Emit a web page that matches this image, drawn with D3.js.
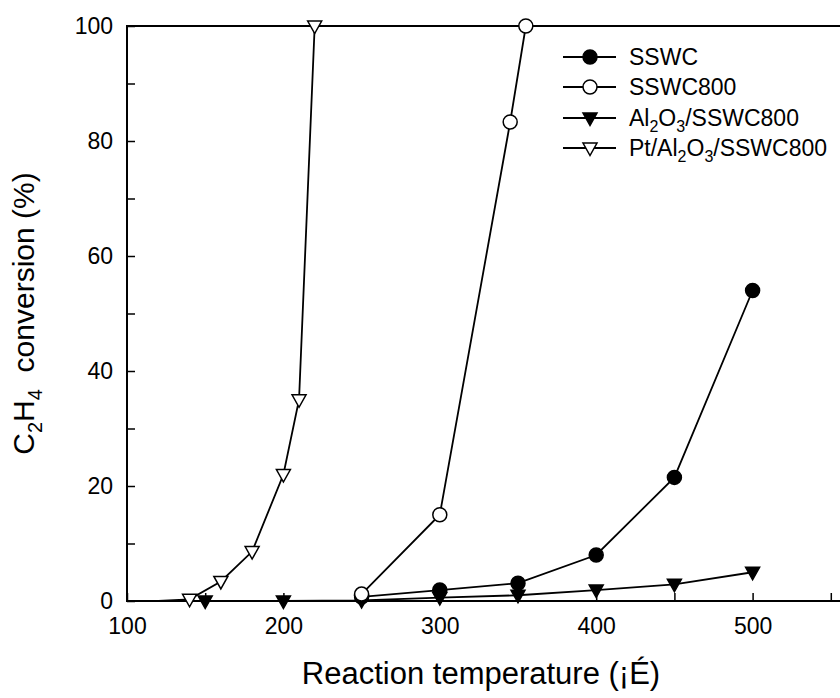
<!DOCTYPE html>
<html>
<head>
<meta charset="utf-8">
<script src="https://cdn.jsdelivr.net/npm/d3@7"></script>
<style>
  body { margin: 0; background: #fff; }
  text { font-family: Arial, "Liberation Sans", sans-serif; fill: #000; }
</style>
</head>
<body>
<div id="chart"></div>
<script>
// ---- data ----
var tempSSWC = [250, 300, 350, 400, 450, 500];
var convSSWC = [0.7, 1.9, 3.1, 8.0, 21.5, 54.0];

var tempSSWC800 = [250, 300, 345, 355];
var convSSWC800 = [1.2, 15.0, 83.3, 100];

var tempAl = [150, 200, 250, 300, 350, 400, 450, 500];
var convAl = [0, 0, 0.1, 0.6, 1.0, 1.9, 2.9, 5.0];

// first point only starts the line, no marker shown for it
var tempPt = [120, 140, 160, 180, 200, 210, 220];
var convPt = [0, 0.3, 3.4, 8.6, 22, 35, 100];

var xTickValues = [100, 150, 200, 250, 300, 350, 400, 450, 500, 550];
var yTickValues = [0, 10, 20, 30, 40, 50, 60, 70, 80, 90, 100];

// legend names, split in [text, isSubscript] pieces
var legendNames = [
  [["SSWC", 0]],
  [["SSWC800", 0]],
  [["Al", 0], ["2", 1], ["O", 0], ["3", 1], ["/SSWC800", 0]],
  [["Pt/Al", 0], ["2", 1], ["O", 0], ["3", 1], ["/SSWC800", 0]]
];

function pairs(xs, ys) {
  return xs.map(function (d, i) { return { t: d, c: ys[i] }; });
}

var series = [
  { name: "SSWC", data: pairs(tempSSWC, convSSWC), marker: "circle", fill: "#000", skip: 0 },
  { name: "SSWC800", data: pairs(tempSSWC800, convSSWC800), marker: "circle", fill: "#fff", skip: 0 },
  { name: "Al2O3/SSWC800", data: pairs(tempAl, convAl), marker: "tri", fill: "#000", skip: 0 },
  { name: "Pt/Al2O3/SSWC800", data: pairs(tempPt, convPt), marker: "tri", fill: "#fff", skip: 1 }
];

// ---- layout ----
var W = 840, H = 698;
var plotL = 127, plotT = 26, plotR = 909, plotB = 601;

var svg = d3.select("#chart").append("svg")
  .attr("width", W)
  .attr("height", H);

var x = d3.scaleLinear().domain([100, 600]).range([plotL, plotR]);
var y = d3.scaleLinear().domain([0, 100]).range([plotB, plotT]);

// frame
svg.append("rect")
  .attr("x", plotL).attr("y", plotT)
  .attr("width", plotR - plotL).attr("height", plotB - plotT)
  .attr("fill", "none").attr("stroke", "#000").attr("stroke-width", 2);

// x axis, ticks pointing inwards
var xAxis = svg.append("g")
  .attr("transform", "translate(0," + plotB + ")")
  .call(d3.axisBottom(x)
    .tickValues(xTickValues)
    .tickSize(-8)
    .tickSizeOuter(0)
    .tickPadding(17)
    .tickFormat(function (d) { return d % 100 === 0 ? d : ""; }));
xAxis.select(".domain").remove();
xAxis.selectAll("line").attr("stroke-width", 1.5);
xAxis.selectAll("text").style("font-size", "23px").attr("font-family", null);

// y axis
var yAxis = svg.append("g")
  .attr("transform", "translate(" + plotL + ",0)")
  .call(d3.axisLeft(y)
    .tickValues(yTickValues)
    .tickSize(-8)
    .tickSizeOuter(0)
    .tickPadding(14)
    .tickFormat(function (d) { return d % 20 === 0 ? d : ""; }));
yAxis.select(".domain").remove();
yAxis.selectAll("line").attr("stroke-width", 1.5);
yAxis.selectAll("text").style("font-size", "23px").attr("font-family", null);

// axis titles
svg.append("text")
  .attr("x", 481)
  .attr("y", 684)
  .attr("text-anchor", "middle")
  .style("font-size", "31px")
  .text("Reaction temperature (¡É)");

var yt = svg.append("text")
  .attr("transform", "translate(34," + ((plotT + plotB) / 2) + ") rotate(-90)")
  .attr("text-anchor", "middle")
  .style("font-size", "30px");
yt.append("tspan").text("C");
yt.append("tspan").attr("dy", 8).style("font-size", "20px").text("2");
yt.append("tspan").attr("dy", -8).text("H");
yt.append("tspan").attr("dy", 8).style("font-size", "20px").text("4");
yt.append("tspan").attr("dy", -8).text("\u00a0 conversion (%)");

// ---- markers ----
function drawMarker(g, s, cx, cy) {
  if (s.marker === "circle") {
    g.append("circle")
      .attr("cx", cx).attr("cy", cy).attr("r", 7)
      .attr("fill", s.fill).attr("stroke", "#000").attr("stroke-width", 1.5);
  } else {
    g.append("path")
      .attr("d", "M" + (cx - 7) + "," + (cy - 5) + "L" + (cx + 7) + "," + (cy - 5) + "L" + cx + "," + (cy + 7.5) + "Z")
      .attr("fill", s.fill).attr("stroke", "#000").attr("stroke-width", 1.5)
      .attr("stroke-linejoin", "miter");
  }
}

var line = d3.line()
  .x(function (d) { return x(d.t); })
  .y(function (d) { return y(d.c); });

// draw order: filled ones first, open ones on top
[0, 2, 3, 1].forEach(function (k) {
  var s = series[k];
  var g = svg.append("g");
  g.append("path")
    .datum(s.data)
    .attr("d", line)
    .attr("fill", "none")
    .attr("stroke", "#000")
    .attr("stroke-width", 1.8);
  s.data.forEach(function (d, i) {
    if (i < s.skip) return;
    drawMarker(g, s, x(d.t), y(d.c));
  });
});

// ---- legend ----
var legendY = [57, 87, 118, 148];
series.forEach(function (s, i) {
  var g = svg.append("g");
  g.append("line")
    .attr("x1", 563).attr("x2", 616)
    .attr("y1", legendY[i]).attr("y2", legendY[i])
    .attr("stroke", "#000").attr("stroke-width", 1.8);
  drawMarker(g, s, 590, legendY[i]);
  var t = g.append("text")
    .attr("x", 629)
    .attr("y", legendY[i])
    .attr("dy", "0.35em")
    .style("font-size", "23px");
  var shifted = 0;
  legendNames[i].forEach(function (p) {
    var sp = t.append("tspan").text(p[0]);
    if (p[1] && !shifted) { sp.attr("dy", 6).style("font-size", "16px"); shifted = 1; }
    else if (!p[1] && shifted) { sp.attr("dy", -6); shifted = 0; }
    else if (p[1]) { sp.style("font-size", "16px"); }
  });
});
</script>
</body>
</html>
